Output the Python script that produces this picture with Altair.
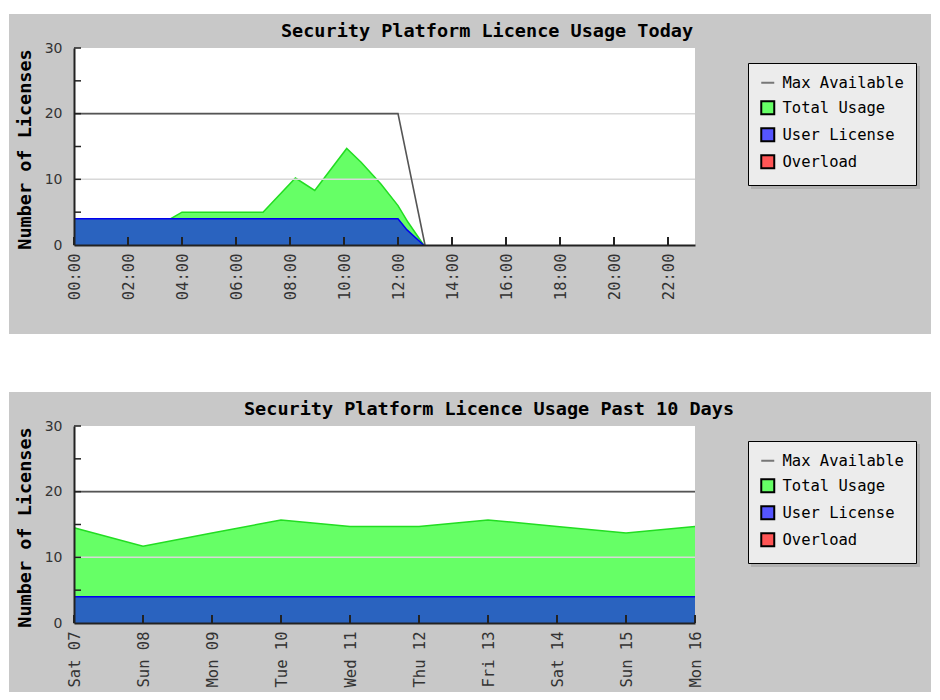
import altair as alt
import pandas as pd

# ---------------- data: "Today" panel ----------------
today_total_times = ["00:00", "03:35", "04:00", "07:00", "08:12", "08:55",
                     "10:06", "10:38", "11:22", "12:00", "12:22", "12:57"]
today_total = [4, 4, 5, 5, 10.2, 8.3, 14.7, 12.6, 9.3, 6.0, 3.5, 0]
today_user_times = ["00:00", "12:00", "12:20", "12:57"]
today_user = [4, 4, 2.3, 0]
today_max_times = ["00:00", "12:00", "13:00"]
today_max = [20, 20, 0]
today_tick_labels = ["00:00", "02:00", "04:00", "06:00", "08:00", "10:00",
                     "12:00", "14:00", "16:00", "18:00", "20:00", "22:00"]

# ---------------- data: "Past 10 Days" panel ----------------
day_labels = ["Sat 07", "Sun 08", "Mon 09", "Tue 10", "Wed 11",
              "Thu 12", "Fri 13", "Sat 14", "Sun 15", "Mon 16"]
days_total = [14.5, 11.7, 13.7, 15.7, 14.7, 14.7, 15.7, 14.7, 13.7, 14.7]
days_user = [4, 4, 4, 4, 4, 4, 4, 4, 4, 4]
days_max = [20, 20, 20, 20, 20, 20, 20, 20, 20, 20]

# ---------------- shared axis / legend content ----------------
y_label_values = [0, 10, 20, 30]
y_minor_ticks = [5, 10, 15, 20, 25, 30]
grid_values = [10, 20]
legend_labels = ["Max Available", "Total Usage", "User License", "Overload"]
legend_fill = ["#777777", "#66ff66", "#5555ff", "#ff5555"]
legend_stroke = ["#777777", "#000000", "#000000", "#000000"]
legend_shapes = ["stroke", "square", "square", "square"]

title_today = "Security Platform Licence Usage Today"
title_days = "Security Platform Licence Usage Past 10 Days"
y_title = "Number of Licenses"

# ---------------- styles ----------------
W, H = 621, 197
PANEL_GREY = "#c8c8c8"
GREEN = "#66ff66"
GREEN_EDGE = "#22dd22"
BLUE = "#2a63bf"
BLUE_EDGE = "#0000ee"
MAX_COL = "#555555"
MONO = "DejaVu Sans Mono"
LEG_X, LEG_Y = 674, 15


def hours(ts):
    return [int(t[:2]) + int(t[3:]) / 60 for t in ts]


one_row = pd.DataFrame({"a": [0]})

y_enc = alt.Y(
    "v:Q",
    scale=alt.Scale(domain=[0, 30], nice=False),
    axis=alt.Axis(
        values=y_label_values, ticks=False, grid=False,
        labelFont="DejaVu Sans", labelFontSize=14, labelColor="#333333",
        labelPadding=12, domainColor="#222222", domainWidth=2,
        title=y_title, titleFont=MONO, titleFontWeight="bold",
        titleFontSize=18.5, titleColor="#000000", titlePadding=10,
        titleY=101, zindex=1,
    ),
)


def x_axis(**kw):
    return alt.Axis(
        labelAngle=-90, ticks=False, grid=False, labelFont=MONO,
        labelFontSize=15.5, labelColor="#333333", labelPadding=8,
        domainColor="#222222", domainWidth=2, title=None, zindex=1,
        labelOverlap=False, **kw,
    )


legend_def = alt.Legend(
    title=None, orient="none", legendX=LEG_X, legendY=LEG_Y,
    fillColor="#ececec", strokeColor="#000000", padding=12, rowPadding=5,
    labelFont=MONO, labelFontSize=15.5, labelColor="#000000", labelOffset=7,
    symbolSize=169, symbolStrokeWidth=2, symbolOpacity=1, labelLimit=300,
    zindex=1,
)


def panel(x_enc, df_total, df_user, df_max, df_xticks, title, title_x, bg_bottom):
    bg = alt.Chart(one_row).mark_rect(color=PANEL_GREY).encode(
        x=alt.value(-65), x2=alt.value(857), y=alt.value(-34), y2=alt.value(bg_bottom))
    shadow = alt.Chart(one_row).mark_rect(color="#b0b0b0").encode(
        x=alt.value(LEG_X + 3), x2=alt.value(LEG_X + 172),
        y=alt.value(LEG_Y + 3), y2=alt.value(LEG_Y + 126))
    plot_bg = alt.Chart(one_row).mark_rect(color="#ffffff").encode(
        x=alt.value(0), x2=alt.value(W), y=alt.value(0), y2=alt.value(H))
    ttl = alt.Chart(one_row).mark_text(
        text=title, font=MONO, fontWeight="bold", fontSize=18.5, color="#000000",
        align="center", baseline="middle").encode(x=alt.value(title_x), y=alt.value(-17))
    green = alt.Chart(df_total).mark_area(
        color=GREEN, opacity=1,
        line=alt.OverlayMarkDef(color=GREEN_EDGE, strokeWidth=1.5)).encode(x=x_enc, y=y_enc)
    blue = alt.Chart(df_user).mark_area(
        color=BLUE, opacity=1,
        line=alt.OverlayMarkDef(color=BLUE_EDGE, strokeWidth=1.5)).encode(x=x_enc, y=y_enc)
    grid = alt.Chart(pd.DataFrame({"v": grid_values})).mark_rule(
        color="#d8d8d8", strokeWidth=1.5).encode(y=y_enc, x=alt.value(0), x2=alt.value(W))
    maxl = alt.Chart(df_max).mark_line(color=MAX_COL, strokeWidth=1.6).encode(x=x_enc, y=y_enc)
    xt = alt.Chart(df_xticks).mark_rule(color="#222222", strokeWidth=2).encode(
        x=x_enc, y=alt.value(H), y2=alt.value(H - 8))
    yt = alt.Chart(pd.DataFrame({"v": y_minor_ticks})).mark_rule(
        color="#222222", strokeWidth=1.5).encode(y=y_enc, x=alt.value(0), x2=alt.value(7))
    leg = alt.Chart(pd.DataFrame({"s": legend_labels})).transform_filter("false").mark_point(
        filled=True, opacity=1).encode(
        color=alt.Color("s:N", scale=alt.Scale(domain=legend_labels, range=legend_fill), legend=legend_def),
        shape=alt.Shape("s:N", scale=alt.Scale(domain=legend_labels, range=legend_shapes), legend=legend_def),
        stroke=alt.Stroke("s:N", scale=alt.Scale(domain=legend_labels, range=legend_stroke), legend=legend_def),
    )
    return alt.layer(bg, shadow, plot_bg, ttl, green, blue, grid, maxl, xt, yt, leg).properties(width=W, height=H)


# ----- top panel -----
x_today = alt.X(
    "h:Q", scale=alt.Scale(domain=[0, 23], nice=False, zero=False),
    axis=x_axis(values=hours(today_tick_labels),
                labelExpr="(datum.value < 10 ? '0' : '') + datum.value + ':00'"),
)
top = panel(
    x_today,
    pd.DataFrame({"h": hours(today_total_times), "v": today_total}),
    pd.DataFrame({"h": hours(today_user_times), "v": today_user}),
    pd.DataFrame({"h": hours(today_max_times), "v": today_max}),
    pd.DataFrame({"h": hours(today_tick_labels)}),
    title_today, 413, 286,
)

# ----- bottom panel -----
x_days = alt.X("d:N", sort=day_labels, scale=alt.Scale(type="point", padding=0), axis=x_axis())
bottom = panel(
    x_days,
    pd.DataFrame({"d": day_labels, "v": days_total}),
    pd.DataFrame({"d": day_labels, "v": days_user}),
    pd.DataFrame({"d": day_labels, "v": days_max}),
    pd.DataFrame({"d": day_labels}),
    title_days, 415, 266,
)

chart = alt.vconcat(top, bottom, spacing=56).resolve_scale(
    x="independent", y="independent", color="independent",
    shape="independent", stroke="independent",
).resolve_legend(
    color="independent", shape="independent", stroke="independent",
).properties(padding={"top": 5, "left": 0, "right": 0, "bottom": 0})

chart.save("out.html", embed_options={"renderer": "svg", "actions": False})
